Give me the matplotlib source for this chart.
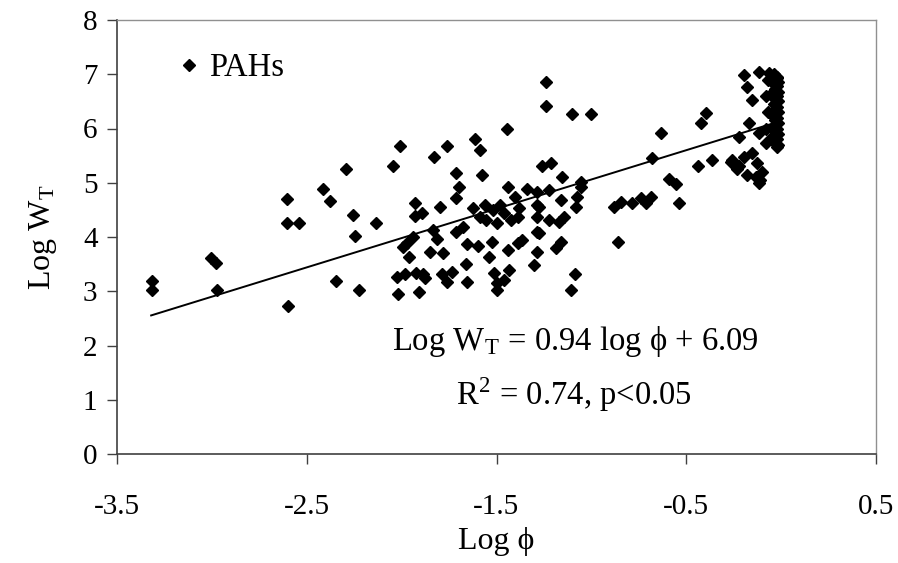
import matplotlib.pyplot as plt
import numpy as np

# Log phi / Log W_T for PAHs
log_phi = [
    -3.316, -3.316, -3.005, -2.979, -2.974, -2.605, -2.605, -2.542, -2.600, -2.416,
    -2.379, -2.295, -2.258, -2.247, -2.137, -2.347, -2.226, -2.047, -2.011, -2.026,
    -2.021,
    -1.237, -1.237, -1.447, -1.611, -1.589, -1.763, -1.832, -1.711, -1.579, -1.258,
    -1.211, -1.700, -1.711, -1.437, -1.337, -1.284, -1.405, -1.932, -1.800, -1.284,
    -1.895, -1.932, -1.626, -1.563, -1.521, -1.484, -1.458, -1.553, -1.500, -1.589,
    -1.679, -1.711, -1.837, -1.811, -1.942, -1.974, -1.995, -1.963, -1.853, -1.784,
    -1.653, -1.595, -1.526, -1.537, -1.663, -1.732, -1.789, -1.763, -1.653, -1.889,
    -1.926, -1.984, -1.911, -1.879, -1.511, -1.500, -1.495, -1.432, -1.442, -1.389,
    -1.289, -1.300, -1.284, -1.274, -1.153, -1.053, -1.221, -1.379, -1.158, -1.074,
    -1.079, -1.421, -1.389, -1.284, -1.221, -1.168, -1.142, -1.274, -1.368, -1.158,
    -1.184, -1.458, -1.084, -1.105, -1.100, -1.000, -1.053,
    -0.632, -0.395, -0.421, -0.679, -0.437, -0.363, -0.263, -0.589, -0.553, -0.537,
    -0.879, -0.842, -0.784, -0.737, -0.684, -0.711, -0.858,
    -0.195, -0.116, -0.063, -0.021, -0.153, -0.179, -0.168, -0.221, -0.116, -0.079,
    -0.021, -0.258, -0.221, -0.195, -0.153, -0.126, -0.100, -0.116, -0.230, -0.180,
    -0.130, -0.110,
    -0.040, -0.020, -0.030, -0.015, -0.040, -0.020, -0.030, -0.015, -0.050, -0.020,
    -0.030, -0.015, -0.040, -0.020, -0.030, -0.015, -0.050, -0.020, -0.030, -0.015,
    -0.040, -0.020, -0.030, -0.015, -0.050, -0.020, -0.040, -0.015,
    -0.070, -0.080, -0.070, -0.080,
]
log_wt = [
    3.19, 3.03, 3.62, 3.52, 3.03, 4.70, 4.26, 4.26, 2.73, 4.89,
    4.67, 5.26, 4.41, 4.02, 4.26, 3.19, 3.03, 5.30, 5.68, 3.27,
    2.95,
    6.85, 6.42, 6.00, 5.81, 5.61, 5.68, 5.48, 5.18, 5.15, 5.30,
    5.37, 4.93, 4.72, 4.93, 4.89, 4.83, 4.74, 4.63, 4.56, 4.59,
    4.45, 4.39, 4.54, 4.59, 4.50, 4.59, 4.45, 4.32, 4.26, 4.37,
    4.19, 4.10, 4.13, 3.97, 4.00, 3.89, 3.82, 3.63, 3.73, 3.71,
    3.87, 3.84, 3.91, 3.63, 3.51, 3.36, 3.32, 3.17, 3.17, 3.32,
    3.34, 3.32, 2.99, 3.25, 3.34, 3.15, 3.03, 3.39, 3.76, 3.89,
    3.73, 3.49, 4.10, 4.56, 5.11, 5.02, 4.87, 4.54, 4.69, 4.74,
    4.56, 4.32, 4.37, 4.37, 4.32, 4.28, 4.37, 4.08, 3.95, 3.91,
    3.80, 3.21, 3.32, 3.03, 6.27, 6.27, 4.93,
    5.92, 6.29, 6.11, 5.46, 5.30, 5.42, 5.39, 5.06, 4.98, 4.63,
    4.56, 4.65, 4.63, 4.72, 4.74, 4.63, 3.91,
    6.99, 7.05, 7.03, 6.94, 6.53, 6.77, 6.11, 5.85, 5.92, 5.74,
    5.65, 5.42, 5.30, 5.48, 5.55, 5.37, 5.20, 5.00, 5.25, 5.15,
    5.10, 5.05,
    7.00, 6.95, 6.90, 6.85, 6.82, 6.78, 6.72, 6.68, 6.65, 6.60,
    6.55, 6.50, 6.45, 6.40, 6.35, 6.30, 6.25, 6.20, 6.15, 6.10,
    6.05, 6.00, 5.95, 5.90, 5.85, 5.80, 5.75, 5.70,
    6.90, 6.60, 6.30, 6.00,
]

# regression line as drawn in the figure
fit_x = [-3.32, -0.05]
fit_slope = 1.08
fit_intercept = 6.14

x_ticks = [-3.5, -2.5, -1.5, -0.5, 0.5]
y_ticks = [0, 1, 2, 3, 4, 5, 6, 7, 8]

plt.rcParams["font.family"] = ["Liberation Serif", "DejaVu Serif"]
plt.rcParams["mathtext.fontset"] = "stix"

fig = plt.figure(figsize=(8.98, 5.63), dpi=100)
ax = fig.add_axes([117 / 898, 1 - 454 / 563, (876 - 117) / 898, (454 - 20) / 563])

ax.plot(log_phi, log_wt, linestyle="none", marker="D", markersize=6.6,
        color="black", label="PAHs", zorder=3)
fx = np.array(fit_x)
ax.plot(fx, fit_slope * fx + fit_intercept, color="black", linewidth=1.4, zorder=2)

ax.set_xlim(-3.5, 0.5)
ax.set_ylim(0, 8)
ax.set_xticks(x_ticks)
ax.set_xticklabels([str(t) for t in x_ticks])
ax.set_yticks(y_ticks)

ax.tick_params(axis="both", direction="out", length=7, width=1, labelsize=21, color="#404040")
ax.tick_params(axis="x", pad=22)
ax.tick_params(axis="y", pad=7)

for side in ("left", "bottom"):
    ax.spines[side].set_color("#404040")
    ax.spines[side].set_linewidth(1.2)
for side in ("top", "right"):
    ax.spines[side].set_color("#909090")
    ax.spines[side].set_linestyle((0, (1, 1)))
    ax.spines[side].set_linewidth(1)

ax.set_xlabel("Log \u03d5", fontsize=23, labelpad=5)
ax.set_ylabel(r"Log W$_\mathregular{T}$", fontsize=23, labelpad=17)

ax.text(-1.084, 2.08, "Log W$_\\mathregular{T}$ = 0.94 log \u03d5 + 6.09",
        fontsize=23.5, ha="center", va="center")
ax.text(-1.09, 1.09, r"R$^\mathregular{2}$ = 0.74, p<0.05",
        fontsize=23.5, ha="center", va="center")

ax.legend(loc="center left", bbox_to_anchor=(0.065, 0.89), frameon=False,
          fontsize=23.5, handlelength=0.6, handletextpad=0.3, borderaxespad=0)

fig.savefig("out.png", dpi=100, facecolor="white")
